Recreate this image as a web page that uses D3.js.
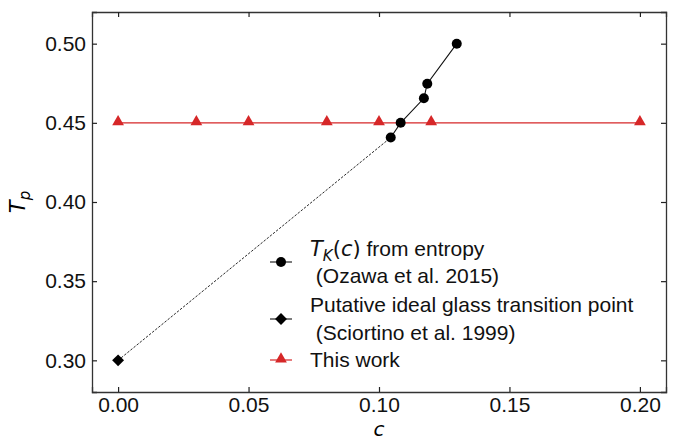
<!DOCTYPE html>
<html>
<head>
<meta charset="utf-8">
<script src="https://cdn.jsdelivr.net/npm/d3@7"></script>
<style>
  body { margin: 0; background: white; }
  svg { font-family: "Liberation Sans", Arial, sans-serif; }
  text { white-space: pre; }
</style>
</head>
<body>
<div id="chart"></div>
<script>
// T_K(c) from entropy (Ozawa et al. 2015)
const ozawaC = [0.1045, 0.1083, 0.1172, 0.1185, 0.1298];
const ozawaT = [0.4407, 0.450, 0.4655, 0.4747, 0.500];
// putative ideal glass transition point (Sciortino et al. 1999)
const sciortinoC = [0.0];
const sciortinoT = [0.30];
// this work
const workC = [0.0, 0.03, 0.05, 0.08, 0.10, 0.12, 0.20];
const workT = [0.45, 0.45, 0.45, 0.45, 0.45, 0.45, 0.45];

const xTicks = [0.00, 0.05, 0.10, 0.15, 0.20];
const yTicks = [0.30, 0.35, 0.40, 0.45, 0.50];

const width = 682, height = 441;
const margin = {top: 12, right: 16, bottom: 49, left: 92};
const red = "#d62728";

const svg = d3.select("#chart").append("svg")
    .attr("width", width)
    .attr("height", height);

const x = d3.scaleLinear().domain([-0.01, 0.21]).range([margin.left, width - margin.right]);
const y = d3.scaleLinear().domain([0.28, 0.52]).range([height - margin.bottom, margin.top]);

const toPts = (cs, ts) => cs.map((c, i) => [c, ts[i]]);
const ozawa = toPts(ozawaC, ozawaT);
const sciortino = toPts(sciortinoC, sciortinoT);
const work = toPts(workC, workT);

const line = d3.line().x(d => x(d[0])).y(d => y(d[1]));

// axes, ticks pointing inward on all four sides
const tickLen = 5;
svg.append("g").attr("transform", `translate(0,${height - margin.bottom})`)
    .call(d3.axisBottom(x).tickValues(xTicks).tickSize(-tickLen).tickPadding(5).tickFormat(d3.format(".2f")));
svg.append("g").attr("transform", `translate(0,${margin.top})`)
    .call(d3.axisTop(x).tickValues(xTicks).tickSize(-tickLen).tickFormat(""));
svg.append("g").attr("transform", `translate(${margin.left},0)`)
    .call(d3.axisLeft(y).tickValues(yTicks).tickSize(-tickLen).tickPadding(6).tickFormat(d3.format(".2f")));
svg.append("g").attr("transform", `translate(${width - margin.right},0)`)
    .call(d3.axisRight(y).tickValues(yTicks).tickSize(-tickLen).tickFormat(""));

svg.selectAll(".domain").attr("stroke", "#333").attr("stroke-width", 1.3);
svg.selectAll(".tick line").attr("stroke", "#222").attr("stroke-width", 1.2);
svg.selectAll(".tick text").attr("font-size", "21px").attr("fill", "#111")
    .attr("font-family", "Liberation Sans, Arial, sans-serif");

// red line + triangles (this work)
svg.append("path").datum(work).attr("d", line)
    .attr("fill", "none").attr("stroke", red).attr("stroke-width", 1.2);
const tri = d3.symbol().type(d3.symbolTriangle).size(60);
svg.append("g").selectAll("path").data(work).join("path")
    .attr("d", tri).attr("fill", red)
    .attr("transform", d => `translate(${x(d[0])},${y(d[1]) - 1})`);

// dashed extrapolation to the putative point
svg.append("path").datum([sciortino[0], ozawa[0]]).attr("d", line)
    .attr("fill", "none").attr("stroke", "#111").attr("stroke-width", 0.9)
    .attr("stroke-dasharray", "2.5,1.5");

// Ozawa line + circles
svg.append("path").datum(ozawa).attr("d", line)
    .attr("fill", "none").attr("stroke", "#111").attr("stroke-width", 1.1);
svg.append("g").selectAll("circle").data(ozawa).join("circle")
    .attr("cx", d => x(d[0])).attr("cy", d => y(d[1])).attr("r", 5).attr("fill", "#000");

// diamond
const diamond = d3.symbol().type(d3.symbolDiamond2).size(90);
svg.append("g").selectAll("path").data(sciortino).join("path")
    .attr("d", diamond).attr("fill", "#000")
    .attr("transform", d => `translate(${x(d[0])},${y(d[1])})`);

// axis labels
const mathFont = "DejaVu Sans, sans-serif";
svg.append("text").attr("x", x(0.10)).attr("y", 436)
    .attr("text-anchor", "middle").attr("font-size", "20px")
    .attr("font-family", mathFont).attr("font-style", "italic").text("c");

const ylab = svg.append("text")
    .attr("transform", `translate(25,${(margin.top + height - margin.bottom) / 2}) rotate(-90)`)
    .attr("text-anchor", "middle").attr("font-size", "21px")
    .attr("font-family", mathFont).attr("font-style", "italic");
ylab.append("tspan").text("T");
ylab.append("tspan").attr("font-size", "15px").attr("dy", 5).text("p");

// legend
const lg = svg.append("g").attr("transform", "translate(281,0)");
const lgText = (yy, build) => {
  const t = lg.append("text").attr("x", 29).attr("y", yy).attr("font-size", "21px").attr("fill", "#111");
  build(t);
};
// entry 1
lg.append("line").attr("x1", -11).attr("x2", 11).attr("y1", 262).attr("y2", 262).attr("stroke", "#111").attr("stroke-width", 1.1);
lg.append("circle").attr("cx", 0).attr("cy", 262).attr("r", 5).attr("fill", "#000");
lgText(256, t => {
  t.append("tspan").attr("font-family", mathFont).attr("font-style", "italic").text("T");
  t.append("tspan").attr("font-family", mathFont).attr("font-style", "italic").attr("font-size", "15px").attr("dy", 5).text("K");
  t.append("tspan").attr("font-family", mathFont).attr("dy", -5).text("(");
  t.append("tspan").attr("font-family", mathFont).attr("font-style", "italic").text("c");
  t.append("tspan").attr("font-family", mathFont).text(")");
  t.append("tspan").text(" from entropy");
});
lgText(283, t => t.text(" (Ozawa et al. 2015)"));
// entry 2
lg.append("line").attr("x1", -11).attr("x2", 11).attr("y1", 319).attr("y2", 319).attr("stroke", "#111").attr("stroke-width", 1.1);
lg.append("path").attr("d", diamond).attr("fill", "#000").attr("transform", "translate(0,319)");
lgText(312, t => t.text("Putative ideal glass transition point"));
lgText(340, t => t.text(" (Sciortino et al. 1999)"));
// entry 3
lg.append("line").attr("x1", -11).attr("x2", 11).attr("y1", 360).attr("y2", 360).attr("stroke", red).attr("stroke-width", 1.2);
lg.append("path").attr("d", tri).attr("fill", red).attr("transform", "translate(0,359)");
lgText(367, t => t.text("This work"));
</script>
</body>
</html>
